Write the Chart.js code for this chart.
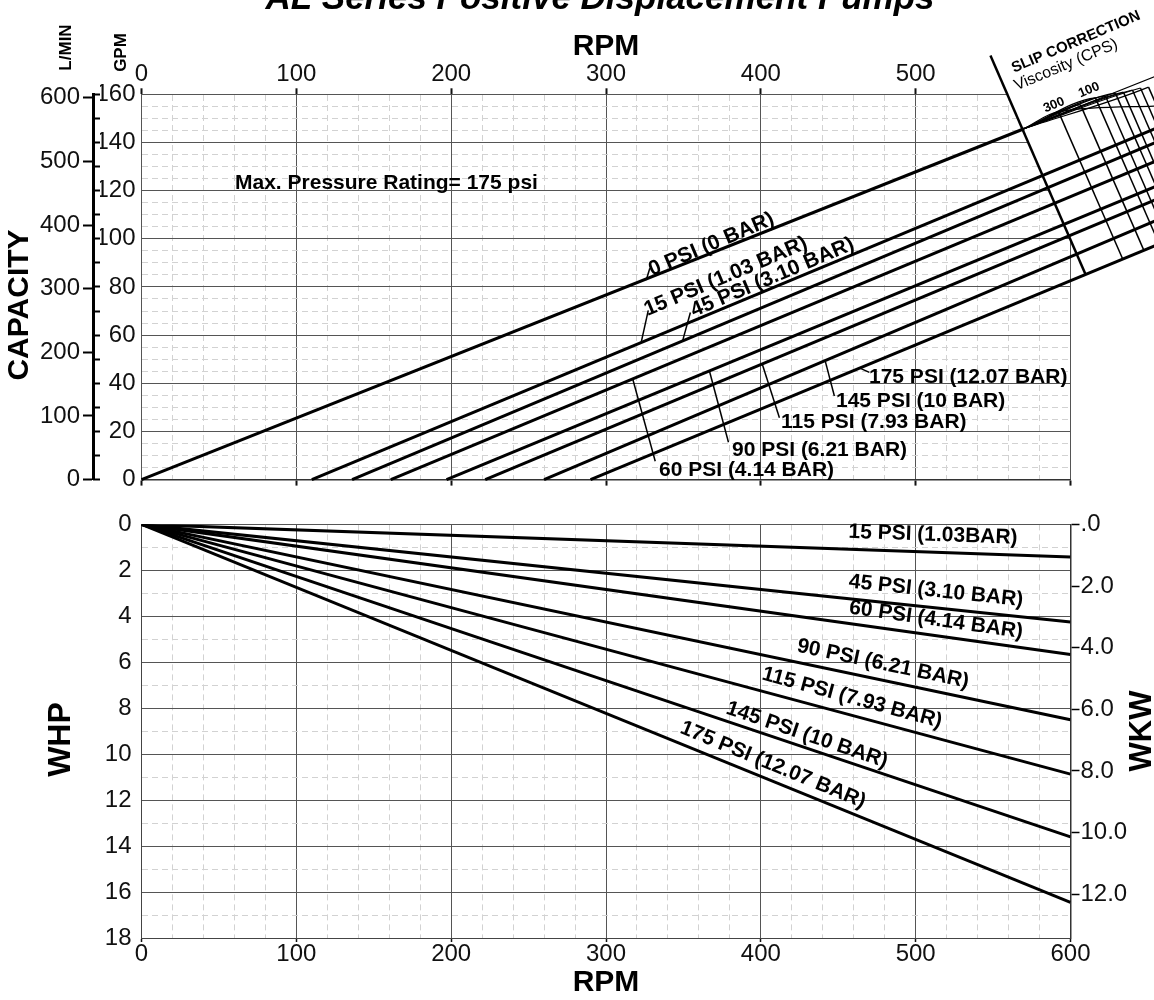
<!DOCTYPE html>
<html>
<head>
<meta charset="utf-8">
<script src="https://cdn.jsdelivr.net/npm/chart.js@4.4.1/dist/chart.umd.min.js"></script>
<style>
  html, body { margin: 0; padding: 0; background: #fff; }
  #wrap { position: relative; width: 1154px; height: 1000px; overflow: hidden; }
  canvas { position: absolute; left: 0; }
  #capchart { top: 0; }
  #hpchart { top: 500px; }
</style>
</head>
<body>
<div id="wrap">
  <canvas id="capchart" width="1154" height="500"></canvas>
  <canvas id="hpchart" width="1154" height="500"></canvas>
</div>
<script>
// ---- data ----
const capLabels = ['0 PSI', '15 PSI', '45 PSI', '60 PSI', '90 PSI', '115 PSI', '145 PSI', '175 PSI'];
// rpm where each capacity line starts at 0 GPM
const capStartRpm = [0, 110, 136, 161, 197, 222, 260, 290];
// rpm / GPM at the right end of each line
const capEndRpm = [570, 660, 660, 660, 660, 660, 660, 660];
const capEndGpm = [145.7, 147.2, 141.4, 133.6, 123.1, 117.6, 108.9, 98.6];

const hpLabels = ['15 PSI', '45 PSI', '60 PSI', '90 PSI', '115 PSI', '145 PSI', '175 PSI'];
const hpRpm = [0, 600];
const hpAt600 = [1.42, 4.25, 5.66, 8.5, 10.87, 13.6, 16.45];

// slip correction nomogram (rpm, GPM)
const slipEdge = [[548.3, 176.1], [609.6, 85.4]];
const fanStart = [569.8, 145.7];
const fanTop = [655, 167.5];
const fanMid = [[592.2, 152.8], [606.4, 155.7], [616.1, 158.5], [622.6, 159.3], [629.0, 160.5],
                [634.2, 160.9], [640.0, 161.8], [645.2, 162.6], [650.4, 163.0]];
const fanEndGpm = [155.1, 157.3, 159.3, 160.1, 161.4, 162.3, 163.1, 164.0, 164.4];
const fanEndRpm = 655;
const slipDrop = [[633.7, 91.6], [647.4, 95.2], [657.2, 97.9], [662.7, 100], [670.0, 100],
                  [675.4, 100], [681.8, 100], [687.6, 100], [693.1, 100]];

// little leader lines from the curve to its label (rpm, GPM)
const leaderFrom = [[326.0, 82.9], [322.8, 57.2], [349.3, 57.2], [317.3, 41.7], [366.8, 45.1], [401.0, 47.8], [441.7, 49.0], [463.6, 46.4]];
const leaderTo = [[328.3, 87.8], [327.3, 70.3], [354.5, 69.4], [331.8, 7.6], [379.1, 15.5], [412.0, 25.7], [447.5, 34.7], [470.1, 44.5]];

const gpmTicks = [0, 20, 40, 60, 80, 100, 120, 140, 160];
const lpmTicks = [0, 100, 200, 300, 400, 500, 600];
const kwValues = [0, 2, 4, 6, 8, 10, 12];
const kwTicks = ['.0', '2.0', '4.0', '6.0', '8.0', '10.0', '12.0'];

const FONT = "'Liberation Sans', Arial, sans-serif";
Chart.defaults.font.family = FONT;
Chart.defaults.color = '#000';

function gridCol(major) {
  return function (c) { return c.tick && c.tick.value % major === 0 ? '#555' : '#d2d2d2'; };
}
function gridDash(major) {
  return function (c) { return c.tick && c.tick.value % major !== 0 ? [6, 4] : []; };
}
function tickCol(major) {
  return function (c) { return c.tick && c.tick.value % major === 0 ? '#111' : 'rgba(0,0,0,0)'; };
}
function fixW(w) { return function (s) { s.width = w; }; }
function fixH(h) { return function (s) { s.height = h; }; }
function setTicks(vals) { return function (s) { s.ticks = vals.map(function (v) { return { value: v }; }); }; }

function txt(ctx, s, x, y, size, angle, opts) {
  opts = opts || {};
  ctx.save();
  ctx.translate(x, y);
  ctx.rotate((angle || 0) * Math.PI / 180);
  ctx.font = (opts.style || 'bold') + ' ' + size + 'px ' + FONT;
  ctx.fillStyle = '#000';
  ctx.textAlign = opts.align || 'center';
  ctx.textBaseline = opts.base || 'middle';
  ctx.fillText(s, 0, 0);
  ctx.restore();
}

function pts(a) { return a.map(function (p) { return { x: p[0], y: p[1] }; }); }

// ---- capacity chart datasets ----
var capSets = [];
capLabels.forEach(function (name, i) {
  capSets.push({ label: name, data: [{ x: capStartRpm[i], y: 0 }, { x: capEndRpm[i], y: capEndGpm[i] }], borderWidth: 3 });
});
capSets.push({ label: 'edge', data: pts(slipEdge), borderWidth: 2.5 });
capSets.push({ label: 'fan', data: pts([fanStart, fanTop]), borderWidth: 1.2 });
fanMid.forEach(function (m, i) {
  capSets.push({ label: 'fan' + i, data: pts([fanStart, m, [fanEndRpm, fanEndGpm[i]]]), borderWidth: 1.2, cubicInterpolationMode: 'monotone' });
  capSets.push({ label: 'drop' + i, data: pts([m, slipDrop[i]]), borderWidth: 1.5 });
});
leaderFrom.forEach(function (p, i) {
  capSets.push({ label: 'leader' + i, data: pts([p, leaderTo[i]]), borderWidth: 1.5 });
});
capSets.forEach(function (d) {
  d.showLine = true; d.borderColor = '#000'; d.pointRadius = 0; d.clip = false; d.fill = false;
});

var capText = {
  id: 'capText',
  beforeDatasetsDraw: function (chart) {
    // blank the grid behind the slip correction area
    var ctx = chart.ctx, xs = chart.scales.x, ys = chart.scales.y;
    var a = { x: xs.getPixelForValue(slipEdge[0][0]), y: ys.getPixelForValue(slipEdge[0][1]) };
    var b = { x: xs.getPixelForValue(slipEdge[1][0]), y: ys.getPixelForValue(slipEdge[1][1]) };
    ctx.save();
    ctx.fillStyle = '#fff';
    ctx.beginPath();
    ctx.moveTo(a.x, a.y); ctx.lineTo(b.x, b.y); ctx.lineTo(chart.width, b.y);
    ctx.lineTo(chart.width, 0); ctx.lineTo(a.x, 0); ctx.closePath();
    ctx.fill();
    ctx.restore();
  },
  afterDraw: function (chart) {
    var ctx = chart.ctx;
    txt(ctx, 'AL Series Positive Displacement Pumps', 600, 9, 35, 0, { style: 'italic bold', base: 'alphabetic' });
    txt(ctx, 'RPM', 606, 47, 30, 0);
    txt(ctx, 'L/MIN', 66, 47.5, 17, -90);
    txt(ctx, 'GPM', 121.5, 52.5, 17, -90);
    txt(ctx, 'CAPACITY', 20, 305, 30, -90);
    txt(ctx, 'Max. Pressure Rating= 175 psi', 235, 189, 21, 0, { align: 'left', base: 'alphabetic' });
    txt(ctx, '0 PSI (0 BAR)', 711.5, 244.5, 21, -22.9);
    txt(ctx, '15 PSI (1.03 BAR)', 725.8, 276.7, 21, -22.9);
    txt(ctx, '45 PSI (3.10 BAR)', 772.5, 277.5, 21, -22.9);
    txt(ctx, '60 PSI (4.14 BAR)', 659, 470, 21, 0, { align: 'left' });
    txt(ctx, '90 PSI (6.21 BAR)', 732, 450, 21, 0, { align: 'left' });
    txt(ctx, '115 PSI (7.93 BAR)', 781, 422, 21, 0, { align: 'left' });
    txt(ctx, '145 PSI (10 BAR)', 836, 401, 21, 0, { align: 'left' });
    txt(ctx, '175 PSI (12.07 BAR)', 869, 377, 21, 0, { align: 'left' });
    txt(ctx, 'SLIP CORRECTION', 1076, 42, 15, -22.9);
    txt(ctx, 'Viscosity (CPS)', 1066, 65, 16, -22.9, { style: 'normal' });
    txt(ctx, '300', 1054, 105, 13, -22.9);
    txt(ctx, '100', 1089, 90, 13, -22.9);
  }
};

new Chart(document.getElementById('capchart'), {
  type: 'scatter',
  data: { datasets: capSets },
  options: {
    responsive: false,
    animation: false,
    events: [],
    layout: { padding: { left: 0, right: 83.5, top: 0, bottom: 0 } },
    plugins: { legend: { display: false }, tooltip: { enabled: false } },
    scales: {
      x: {
        type: 'linear', position: 'top', min: 0, max: 600,
        afterFit: fixH(94.3),
        ticks: { stepSize: 20, autoSkip: false, maxRotation: 0, padding: 0, font: { size: 24 }, color: '#111',
          callback: function (v) { return v % 100 === 0 && v < 600 ? v : ''; } },
        grid: { color: gridCol(100), lineWidth: 1, tickLength: 6, tickWidth: 2, tickColor: tickCol(100) },
        border: { color: '#555', width: 1, dash: gridDash(100) }
      },
      xb: {
        type: 'linear', position: 'bottom', min: 0, max: 600,
        afterFit: fixH(14),
        ticks: { stepSize: 20, autoSkip: false, display: false },
        grid: { drawOnChartArea: false, tickLength: 6, tickWidth: 2, tickColor: tickCol(100) },
        border: { color: '#333', width: 1.5 }
      },
      y: {
        type: 'linear', position: 'left', weight: 0, min: 0, max: 160,
        afterFit: fixW(41.5),
        ticks: { stepSize: 5, autoSkip: false, padding: 6, font: { size: 24 }, color: '#111',
          callback: function (v) { return gpmTicks.indexOf(v) >= 0 ? v : ''; } },
        grid: { color: gridCol(20), lineWidth: 1, drawTicks: false },
        border: { color: '#555', width: 1, dash: gridDash(20) }
      },
      yt: {
        type: 'linear', position: 'left', weight: 1, min: 0, max: 160,
        afterFit: fixW(7),
        ticks: { stepSize: 10, autoSkip: false, display: false },
        grid: { drawOnChartArea: false, tickLength: 7, tickWidth: 2, tickColor: '#000' },
        border: { display: false }
      },
      yl: {
        type: 'linear', position: 'left', weight: 2, min: 0, max: 160 * 3.785,
        afterFit: fixW(93),
        afterBuildTicks: setTicks(lpmTicks),
        ticks: { autoSkip: false, padding: 3, font: { size: 24 }, color: '#111' },
        grid: { drawOnChartArea: false, tickLength: 10, tickWidth: 2, tickColor: '#000' },
        border: { color: '#000', width: 3 }
      }
    }
  },
  plugins: [capText]
});

// ---- horsepower chart ----
var hpSets = hpLabels.map(function (name, i) {
  return { label: name, data: [{ x: hpRpm[0], y: 0 }, { x: hpRpm[1], y: hpAt600[i] }],
    showLine: true, borderColor: '#000', borderWidth: 3, pointRadius: 0, fill: false };
});

var hpText = {
  id: 'hpText',
  afterDraw: function (chart) {
    var ctx = chart.ctx;
    txt(ctx, '15 PSI (1.03BAR)', 933, 35, 21, 2.0);
    txt(ctx, '45 PSI (3.10 BAR)', 936, 91, 21, 6.1);
    txt(ctx, '60 PSI (4.14 BAR)', 936, 120, 21, 8.1);
    txt(ctx, '90 PSI (6.21 BAR)', 883, 164, 21, 12.0);
    txt(ctx, '115 PSI (7.93 BAR)', 852, 198, 21, 15.2);
    txt(ctx, '145 PSI (10 BAR)', 807, 235, 21, 18.8);
    txt(ctx, '175 PSI (12.07 BAR)', 773, 265, 21, 22.4);
    txt(ctx, 'WHP', 61.5, 239.5, 32, -90);
    txt(ctx, 'WKW', 1142, 231, 31, -90);
    txt(ctx, 'RPM', 606, 483, 30, 0);
  }
};

new Chart(document.getElementById('hpchart'), {
  type: 'scatter',
  data: { datasets: hpSets },
  options: {
    responsive: false,
    animation: false,
    events: [],
    layout: { padding: { left: 0, right: 0, top: 19, bottom: 0 } },
    plugins: { legend: { display: false }, tooltip: { enabled: false } },
    scales: {
      x: {
        type: 'linear', position: 'bottom', min: 0, max: 600,
        afterFit: fixH(62),
        ticks: { stepSize: 20, autoSkip: false, maxRotation: 0, padding: -2, font: { size: 24 }, color: '#111',
          callback: function (v) { return v % 100 === 0 ? v : ''; } },
        grid: { color: gridCol(100), lineWidth: 1, tickLength: 4, tickWidth: 1.5, tickColor: tickCol(100) },
        border: { color: '#444', width: 1, dash: gridDash(100) }
      },
      y: {
        type: 'linear', position: 'left', reverse: true, min: 0, max: 18,
        afterFit: fixW(141.5),
        ticks: { stepSize: 1, autoSkip: false, padding: 10, font: { size: 24 }, color: '#111',
          callback: function (v) { return v % 2 === 0 ? v : ''; } },
        grid: { color: gridCol(2), lineWidth: 1, drawTicks: false },
        border: { color: '#444', width: 1, dash: gridDash(2) }
      },
      yk: {
        type: 'linear', position: 'right', reverse: true, min: 0, max: 18 / 1.341,
        afterFit: fixW(83.5),
        afterBuildTicks: setTicks(kwValues),
        ticks: { autoSkip: false, padding: 1, font: { size: 24 }, color: '#111',
          callback: function (v) { return kwTicks[kwValues.indexOf(v)]; } },
        grid: { drawOnChartArea: false, tickLength: 9, tickWidth: 1.5, tickColor: '#000' },
        border: { color: '#333', width: 1.5 }
      }
    }
  },
  plugins: [hpText]
});
</script>
</body>
</html>
